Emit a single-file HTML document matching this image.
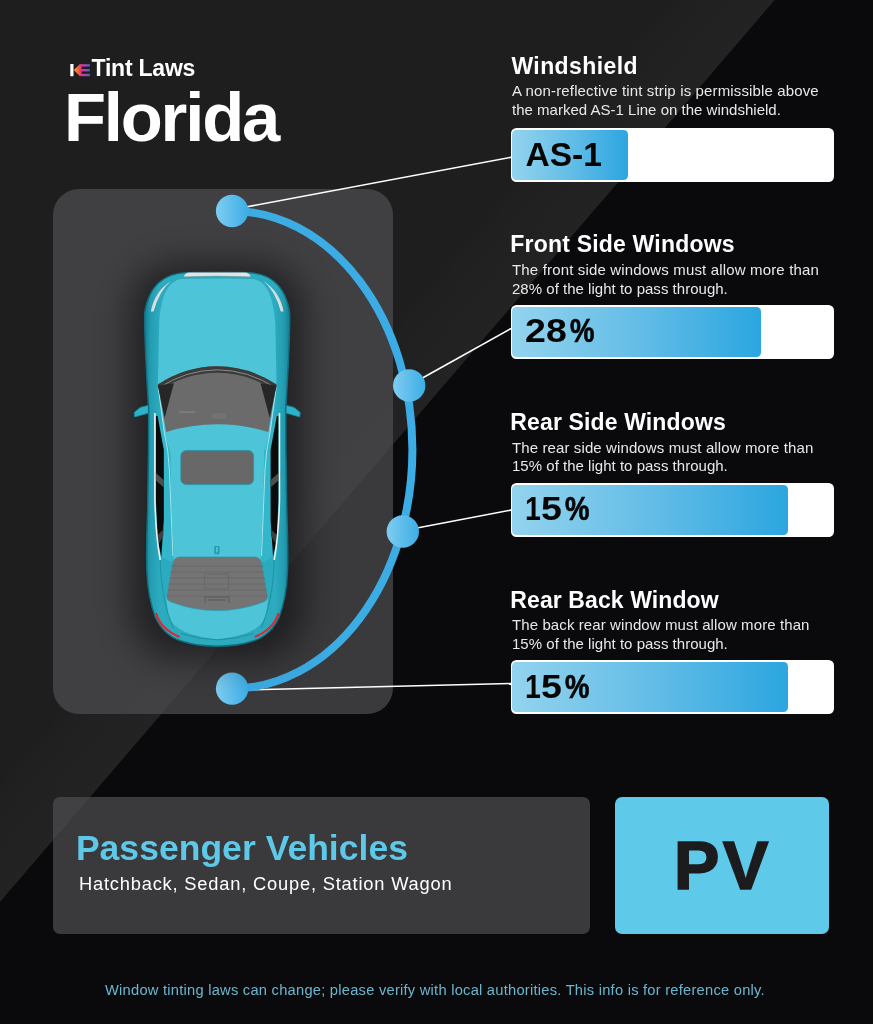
<!DOCTYPE html>
<html lang="en">
<head>
<meta charset="utf-8">
<title>Florida Tint Laws</title>
<style>
html,body{margin:0;padding:0;background:#0b0b0d;}
body{width:873px;height:1024px;position:relative;overflow:hidden;font-family:"Liberation Sans",sans-serif;color:#fff;}
#bg{position:absolute;left:0;top:0;width:873px;height:1024px;}
.abs{position:absolute;white-space:nowrap;line-height:1;}
.panel{position:absolute;background:rgba(79,79,82,.7);}
#carpanel{left:53px;top:189px;width:340px;height:525px;border-radius:26px;}
#pvpanel{left:53px;top:797px;width:537px;height:137px;border-radius:7px;}
#pvbox{position:absolute;left:615px;top:797px;width:214px;height:137px;border-radius:7px;background:#5ec9e8;}
.h{font-weight:700;font-size:23px;left:510.3px;}
.p{font-size:15px;left:512px;color:#e8e8e8;}
.bar{position:absolute;left:510.5px;width:323.5px;height:53.6px;background:#fff;border-radius:5.5px;}
.fill{position:absolute;left:1.5px;top:1.6px;bottom:1.6px;border-radius:4.5px;background:linear-gradient(90deg,#93d3ee 0%,#5fbbe6 55%,#2ba6e0 100%);}
.val{position:absolute;left:15px;top:-.8px;height:53.6px;line-height:53.6px;font-weight:700;font-size:33.5px;color:#050505;letter-spacing:0;}
.pc{display:inline-block;transform:scaleX(.82);transform-origin:0 50%;letter-spacing:0;-webkit-text-stroke:.7px #050505;}
.d{display:inline-block;transform:scaleX(1.12);transform-origin:0 50%;}
</style>
</head>
<body>
<svg id="bg" viewBox="0 0 873 1024">
  <defs>
    <linearGradient id="band" gradientUnits="userSpaceOnUse" x1="387.3" y1="451" x2="326.6" y2="398.9">
      <stop offset="0" stop-color="#fff" stop-opacity=".022"/><stop offset=".85" stop-color="#fff" stop-opacity=".008"/><stop offset="1" stop-color="#fff" stop-opacity="0"/>
    </linearGradient>
  </defs>
  <rect width="873" height="1024" fill="#0a0a0c"/>
  <polygon points="0,0 774.7,0 0,901.9" fill="#1e1e1e"/>
  <polygon points="0,0 774.7,0 0,901.9" fill="url(#band)"/>
</svg>

<div class="panel" id="carpanel"></div>
<div class="panel" id="pvpanel"></div>
<div id="pvbox"></div>

<svg id="fg" class="abs" style="left:0;top:0" width="873" height="1024" viewBox="0 0 873 1024">
  <defs>
    <linearGradient id="node" x1="0" y1="0" x2="1" y2="0">
      <stop offset="0" stop-color="#7fcdf0"/><stop offset="1" stop-color="#3cade6"/>
    </linearGradient>
  </defs>
  <g stroke="#fff" stroke-width="1.6" fill="none">
    <line x1="246" y1="207" x2="511" y2="157.3"/>
    <line x1="422" y1="378.3" x2="511" y2="328.5"/>
    <line x1="417" y1="528" x2="511" y2="510.1"/>
    <line x1="246" y1="690" x2="511" y2="683.5"/>
  </g>
  <path d="M232,211 A180.5,238.8 0 0 1 232,688.6" fill="none" stroke="#3cace4" stroke-width="8"/>
  <circle cx="232.1" cy="211" r="16.2" fill="url(#node)"/>
  <circle cx="409.2" cy="385.5" r="16.2" fill="url(#node)"/>
  <circle cx="402.8" cy="531.5" r="16.2" fill="url(#node)"/>
  <circle cx="232.1" cy="688.6" r="16.2" fill="url(#node)"/>
  <g id="car"><defs><filter id="cs" x="-80%" y="-30%" width="260%" height="160%"><feGaussianBlur stdDeviation="17"/></filter><linearGradient id="bodyg" x1="0" y1="0" x2="1" y2="0"><stop offset="0" stop-color="#167f93"/><stop offset=".04" stop-color="#239cb0"/><stop offset=".1" stop-color="#2caabe"/><stop offset=".9" stop-color="#2caabe"/><stop offset=".96" stop-color="#239cb0"/><stop offset="1" stop-color="#167f93"/></linearGradient></defs>
<g transform="translate(217.2,0)">
<rect x="-88" y="262" width="176" height="398" rx="50" fill="#000" opacity=".47" filter="url(#cs)"/>
<polygon points="-64.00,404.00 -77.00,407.40 -83.00,412.40 -82.60,417.00 -64.00,411.80" fill="#2db3c7" stroke="#15859a" stroke-width=".8"/>
<polygon points="64.00,404.00 77.00,407.40 83.00,412.40 82.60,417.00 64.00,411.80" fill="#2db3c7" stroke="#15859a" stroke-width=".8"/>
<path d="M0.00,272.50 L-30.00,272.60 C-50.00,273.00 -68.50,283.00 -72.60,314.00 C-72.60,340.00 -71.00,370.00 -68.60,408.00 L-68.70,450.00 L-69.60,510.00 C-70.60,540.00 -71.00,556.00 -70.30,572.00 C-69.50,592.00 -66.00,606.00 -62.00,617.00 C-56.00,630.00 -47.00,637.50 -36.00,641.00 C-24.00,645.00 -10.00,646.20 0.00,646.20 C10.00,646.20 24.00,645.00 36.00,641.00 C47.00,637.50 56.00,630.00 62.00,617.00 C66.00,606.00 69.50,592.00 70.30,572.00 C71.00,556.00 70.60,540.00 69.60,510.00 L68.70,450.00 L68.60,408.00 C71.00,370.00 72.60,340.00 72.60,314.00 C68.50,283.00 50.00,273.00 30.00,272.60 L0.00,272.50 Z" fill="url(#bodyg)" stroke="#116e80" stroke-width="1.4"/>
<path d="M-33.5,276.8 Q-33,272.6 -27,272.4 L27,272.4 Q33,272.6 33.5,276.8 Q0,275.4 -33.5,276.8Z" fill="#e4e4e4" stroke="#8d9799" stroke-width=".5"/>
<path d="M-66.3,311.5 Q-63.0,292 -46.4,281.3 Q-57.5,290 -63.6,311.5Z" fill="#d9dde0"/>
<path d="M66.3,311.5 Q63.0,292 46.4,281.3 Q57.5,290 63.6,311.5Z" fill="#d9dde0"/>
<path d="M0.00,278.60 L-36.00,279.00 C-49.00,281.00 -56.00,295.00 -58.00,322.00 L-59.30,384.00 L-53.50,432.00 L-47.00,452.00 L-46.30,500.00 L-43.50,556.00 L-51.00,598.00 L-49.00,614.00 C-45.00,628.00 -33.00,635.00 0.00,639.50 C33.00,635.00 45.00,628.00 49.00,614.00 L51.00,598.00 L43.50,556.00 L46.30,500.00 L47.00,452.00 L53.50,432.00 L59.30,384.00 L58.00,322.00 C56.00,295.00 49.00,281.00 36.00,279.00 L0.00,278.60 Z" fill="#4dc4d7"/>
<polygon points="-59.60,414.00 -53.50,432.00 -47.00,452.00 -46.30,500.00 -43.50,556.00 -46.00,562.00 -55.90,557.00 -53.40,520.00 -53.40,450.00" fill="#33b6ca"/>
<polygon points="-61.20,416.00 -59.60,416.00 -53.40,450.00 -53.40,520.00 -55.90,557.00 -59.40,540.00 -61.30,500.00" fill="#0b0b0c"/>
<polygon points="-63.00,471.50 -53.40,480.00 -53.40,487.50 -63.00,479.00" fill="#4b4d4e"/>
<polygon points="-60.50,536.00 -53.60,529.00 -53.90,536.00 -58.50,544.00" fill="#3d4041"/>
<path d="M-62.3,413 L-62.3,500 Q-61.5,535 -57.0,560" fill="none" stroke="#f4f7f8" stroke-width="1.5"/>
<path d="M-58.9,388 L-53.0,432 Q-48.6,450 -47.8,470 L-44.3,556" fill="none" stroke="#bfeef6" stroke-width=".9" opacity=".9"/>
<path d="M-61.0,614 Q-56.0,629 -38.5,636.6" fill="none" stroke="#e2262b" stroke-width="2.2" stroke-linecap="round"/>
<path d="M-57.0,560 Q-56.0,600 -44.0,628" fill="none" stroke="#1f95a9" stroke-width="1.1"/>
<polygon points="59.60,414.00 53.50,432.00 47.00,452.00 46.30,500.00 43.50,556.00 46.00,562.00 55.90,557.00 53.40,520.00 53.40,450.00" fill="#33b6ca"/>
<polygon points="61.20,416.00 59.60,416.00 53.40,450.00 53.40,520.00 55.90,557.00 59.40,540.00 61.30,500.00" fill="#0b0b0c"/>
<polygon points="63.00,471.50 53.40,480.00 53.40,487.50 63.00,479.00" fill="#4b4d4e"/>
<polygon points="60.50,536.00 53.60,529.00 53.90,536.00 58.50,544.00" fill="#3d4041"/>
<path d="M62.3,413 L62.3,500 Q61.5,535 57.0,560" fill="none" stroke="#f4f7f8" stroke-width="1.5"/>
<path d="M58.9,388 L53.0,432 Q48.6,450 47.8,470 L44.3,556" fill="none" stroke="#bfeef6" stroke-width=".9" opacity=".9"/>
<path d="M61.0,614 Q56.0,629 38.5,636.6" fill="none" stroke="#e2262b" stroke-width="2.2" stroke-linecap="round"/>
<path d="M57.0,560 Q56.0,600 44.0,628" fill="none" stroke="#1f95a9" stroke-width="1.1"/>
<path d="M0.00,366.30 Q-32.00,366.50 -59.30,384.60 L-51.00,432.00 Q-26.00,424.30 0.00,424.30 Q26.00,424.30 51.00,432.00 L59.30,384.60 Q32.00,366.50 0.00,366.30 Z" fill="#6b6b6b"/>
<path d="M0.00,366.30 Q-32.00,366.50 -59.30,384.60 L-58.20,390.50 Q-31.00,373.00 0.00,372.80 Q31.00,373.00 58.20,390.50 L59.30,384.60 Q32.00,366.50 0.00,366.30 Z" fill="#3b3b3c"/>
<path d="M-58.6,388 Q-31,370 0,369.8 Q31,370 58.6,388" fill="none" stroke="#8a8a8a" stroke-width="1"/>
<polygon points="-59.30,385.50 -43.30,383.20 -52.60,418.00" fill="#272728"/>
<polygon points="59.30,385.50 43.30,383.20 52.60,418.00" fill="#272728"/>
<rect x="-38" y="411.5" width="16" height="1.2" fill="#858585"/><rect x="-5" y="413" width="14" height="6" fill="#727272"/>
<rect x="-36.4" y="450.4" width="72.8" height="34.2" rx="5.5" fill="#686868" stroke="#2a96a9" stroke-width=".8"/>
<rect x="-3" y="546" width="5.4" height="8.3" rx="1.2" fill="#2a9cb0"/><rect x="-1.2" y="547" width="1.8" height="5.5" fill="#4dc4d7"/>
<path d="M0.00,557.00 L-37.00,557.00 Q-42.50,557.00 -44.20,562.00 L-50.20,595.00 Q-51.00,600.00 -46.50,601.80 Q-24.00,610.60 0.00,610.60 Q24.00,610.60 46.50,601.80 Q51.00,600.00 50.20,595.00 L44.20,562.00 Q42.50,557.00 37.00,557.00 L0.00,557.00 Z" fill="#747474" stroke="#2a96a9" stroke-width=".7"/>
<line x1="-46.2" y1="566" x2="46.2" y2="566" stroke="#686868" stroke-width=".8"/>
<line x1="-47.0" y1="572" x2="47.0" y2="572" stroke="#686868" stroke-width=".8"/>
<line x1="-47.7" y1="578" x2="47.7" y2="578" stroke="#686868" stroke-width=".8"/>
<line x1="-48.5" y1="584" x2="48.5" y2="584" stroke="#686868" stroke-width=".8"/>
<line x1="-49.3" y1="590" x2="49.3" y2="590" stroke="#686868" stroke-width=".8"/>
<line x1="-50.1" y1="596" x2="50.1" y2="596" stroke="#686868" stroke-width=".8"/>
<rect x="-12.5" y="574" width="24" height="15" fill="none" stroke="#666" stroke-width=".8"/>
<path d="M-12,603 L-12,597 L12,597 L12,603 M-9,600 L9,600" fill="none" stroke="#626262" stroke-width="1.3"/>
<path d="M-36,633.5 Q-18,639.5 0,639.8 Q18,639.5 36,633.5" fill="none" stroke="#1f8fa3" stroke-width="1"/>
</g></g><!--endcar-->
</svg>

<!-- title -->
<svg class="abs" id="logo" style="left:68px;top:60px" width="26" height="20" viewBox="68 60 26 20">
  <defs>
    <linearGradient id="kg" x1="0" y1="0" x2="1" y2="0"><stop offset="0" stop-color="#fbb03b"/><stop offset=".5" stop-color="#f26a2a"/><stop offset="1" stop-color="#ed2b7b"/></linearGradient>
    <linearGradient id="eg" x1="0" y1="0" x2="1" y2="0"><stop offset="0" stop-color="#ea2f86"/><stop offset=".55" stop-color="#a248b8"/><stop offset="1" stop-color="#3f63c8"/></linearGradient>
  </defs>
  <rect x="70.3" y="64" width="3.2" height="12.2" fill="#fff"/>
  <polygon points="73.9,70.1 79.6,64.2 81.6,64.2 81.6,76.1 79.6,76.1" fill="url(#kg)"/>
  <rect x="80.2" y="64.2" width="9.7" height="2.4" fill="url(#eg)"/>
  <rect x="80.2" y="69" width="9.7" height="2.4" fill="url(#eg)"/>
  <rect x="80.2" y="73.8" width="9.7" height="2.4" fill="url(#eg)"/>
</svg>

<div class="abs" id="tint" style="left:91.5px;top:56.9px;font-size:23px;font-weight:700;letter-spacing:-.22px;">Tint Laws</div>
<div class="abs" id="state" style="left:63.9px;top:83.7px;font-size:68.8px;font-weight:700;letter-spacing:-2.15px;">Florida</div>

<!-- sections -->
<div class="abs h" id="h1" style="left:511.4px;top:55px;letter-spacing:.42px;">Windshield</div>
<div class="abs p" id="p1a" style="top:83.2px;letter-spacing:.14px;">A non-reflective tint strip is permissible above</div>
<div class="abs p" id="p1b" style="top:101.5px;letter-spacing:.01px;">the marked AS-1 Line on the windshield.</div>
<div class="bar" style="top:128.3px;"><div class="fill" style="width:115.5px;"></div><div class="val" style="letter-spacing:0;left:15px">AS-1</div></div>

<div class="abs h" id="h2" style="top:233.3px;letter-spacing:.2px;">Front Side Windows</div>
<div class="abs p" id="p2a" style="top:262px;letter-spacing:.16px;">The front side windows must allow more than</div>
<div class="abs p" id="p2b" style="top:280.5px;letter-spacing:.02px;">28% of the light to pass through.</div>
<div class="bar" style="top:305.2px;"><div class="fill" style="width:248.5px;"></div><div class="val" style="left:14.5px"><span class="d" style="letter-spacing:.2px">28</span><span class="pc" style="margin-left:7.7px">%</span></div></div>

<div class="abs h" id="h3" style="top:410.8px;letter-spacing:.14px;">Rear Side Windows</div>
<div class="abs p" id="p3a" style="top:440.2px;letter-spacing:.11px;">The rear side windows must allow more than</div>
<div class="abs p" id="p3b" style="top:457.9px;letter-spacing:.02px;">15% of the light to pass through.</div>
<div class="bar" style="top:483px;"><div class="fill" style="width:276px;"></div><div class="val" style="left:14.1px"><span class="d" style="transform:scaleX(.85)">1</span><span class="d" style="margin-left:-1.8px">5</span><span class="pc" style="margin-left:5.3px">%</span></div></div>

<div class="abs h" id="h4" style="top:588.7px;letter-spacing:.1px;">Rear Back Window</div>
<div class="abs p" id="p4a" style="top:617.3px;letter-spacing:.1px;">The back rear window must allow more than</div>
<div class="abs p" id="p4b" style="top:635.5px;letter-spacing:.02px;">15% of the light to pass through.</div>
<div class="bar" style="top:660.4px;"><div class="fill" style="width:276px;"></div><div class="val" style="left:14.1px"><span class="d" style="transform:scaleX(.85)">1</span><span class="d" style="margin-left:-1.8px">5</span><span class="pc" style="margin-left:5.3px">%</span></div></div>

<!-- bottom -->
<div class="abs" id="pvh" style="left:75.9px;top:830.55px;font-size:35.5px;font-weight:700;color:#5ec8e8;letter-spacing:.03px;">Passenger Vehicles</div>
<div class="abs" id="pvs" style="left:78.9px;top:874.7px;font-size:18.3px;color:#fff;letter-spacing:.81px;">Hatchback, Sedan, Coupe, Station Wagon</div>
<div class="abs" id="pv" style="left:615.8px;width:214px;text-align:center;top:831.6px;font-size:68.6px;font-weight:700;color:#1c1c1e;letter-spacing:3.2px;-webkit-text-stroke:1.5px #1c1c1e;">PV</div>
<div class="abs" id="foot" style="left:105px;top:982.8px;font-size:14.7px;color:#6bb6cf;letter-spacing:.24px;">Window tinting laws can change; please verify with local authorities. This info is for reference only.</div>
</body>
</html>
